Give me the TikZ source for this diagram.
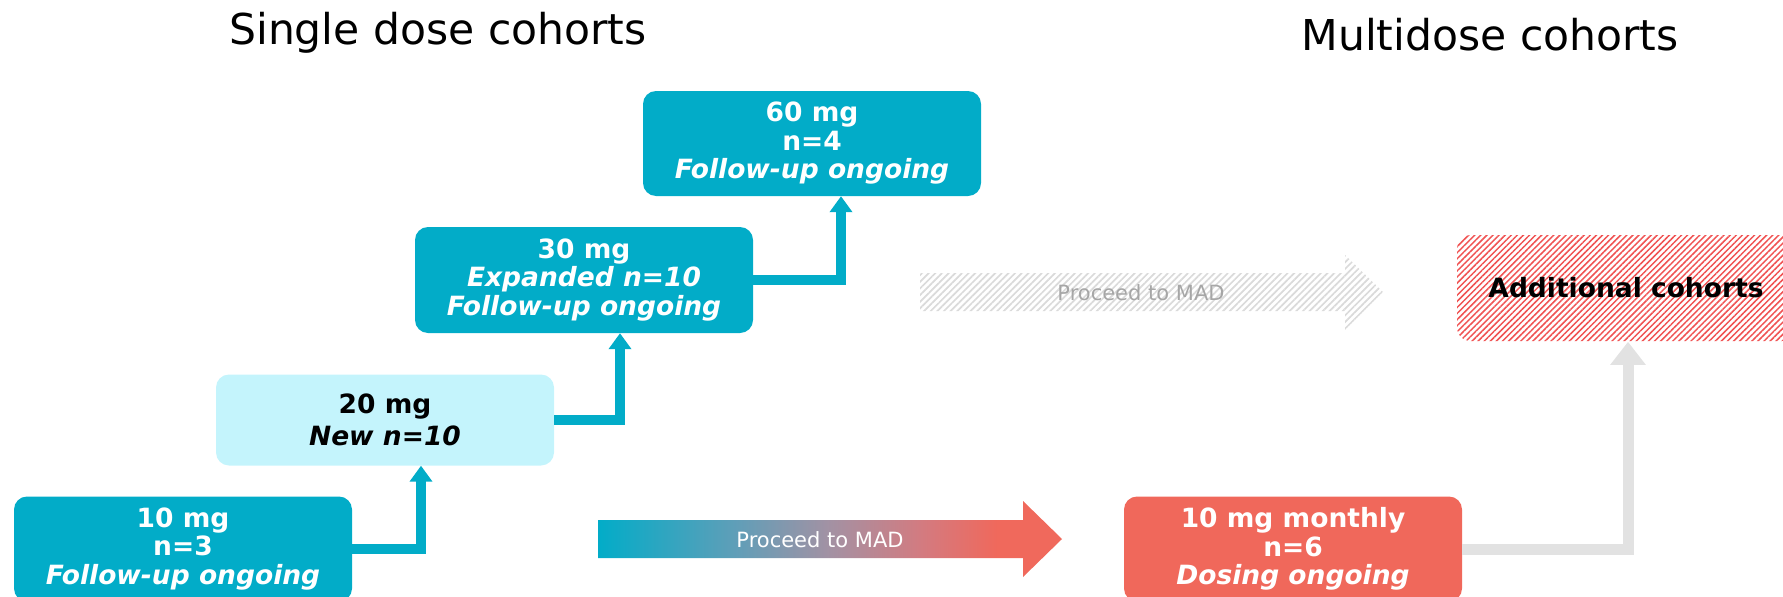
\documentclass[tikz,border=0pt]{standalone}
\usepackage{fontspec}
\setmainfont{DejaVu Sans}
\usetikzlibrary{arrows.meta,patterns.meta}
\definecolor{teal}{RGB}{2,172,200}
\definecolor{lightc}{RGB}{196,244,252}
\definecolor{redc}{RGB}{240,104,91}
\definecolor{grayline}{RGB}{226,226,226}
\definecolor{hatchgray}{RGB}{218,218,218}
\definecolor{hatchred}{RGB}{240,82,82}
\definecolor{graytext}{RGB}{166,166,166}
\pgfdeclarehorizontalshading{madshade}{100bp}{%
  rgb(0bp)=(0.008,0.675,0.784);
  rgb(25bp)=(0.008,0.675,0.784);
  rgb(40bp)=(0.38,0.62,0.72);
  rgb(50bp)=(0.64,0.57,0.64);
  rgb(60bp)=(0.83,0.48,0.50);
  rgb(68bp)=(0.94,0.41,0.36);
  rgb(100bp)=(0.94,0.41,0.36)}
\tikzset{
  box/.style={rounded corners=13pt, minimum width=338pt, minimum height=105pt, inner sep=0pt,
    align=center, font=\fontsize{26.5}{28.5}\selectfont\bfseries},
  tealbox/.style={box, fill=teal, text=white},
  conn/.style={draw=teal, line width=10pt, -{Triangle[width=22pt,length=16pt]}},
  grayconn/.style={draw=grayline, line width=11pt, -{Triangle[width=34pt,length=23pt]}},
  title/.style={font=\fontsize{42.5}{50}\selectfont, inner sep=0pt},
  arrowlabel/.style={font=\fontsize{21}{25}\selectfont, inner sep=0pt}
}
\begin{document}
\begin{tikzpicture}[x=1pt,y=-1pt]
\useasboundingbox (0,0) rectangle (1783,597);
\clip (0,0) rectangle (1783,597);
% titles
\node[title] (t1) at (438,33) {Single dose cohorts};
\node[title] (t2) at (1490,35) {Multidose cohorts};
% boxes
\node[tealbox] (b60) at (812,143.5) {60 mg\\n=4\\\textit{Follow-up ongoing}};
\node[tealbox, minimum height=106pt] (b30) at (584,280) {30 mg\\\textit{Expanded n=10}\\\textit{Follow-up ongoing}};
\node[box, fill=lightc, text=black, minimum height=91pt, font=\fontsize{26.5}{32}\selectfont\bfseries] (b20) at (385,420) {20 mg\\\textit{New n=10}};
\node[tealbox] (b10) at (183,549) {10 mg\\n=3\\\textit{Follow-up ongoing}};
\node[box, fill=redc, text=white] (bm) at (1293,549) {10 mg monthly\\n=6\\\textit{Dosing ongoing}};
\node[box, pattern={Lines[angle=45,distance=4.3pt,line width=1.5pt]}, pattern color=hatchred, minimum height=106pt] (badd) at (1626,288) {};
\node[box, text=black] (baddt) at (badd.center) {Additional cohorts};
% connectors
\draw[conn] (b10.east) -| ([xshift=36pt]b20.south);
\draw[conn] (b20.east) -| ([xshift=36pt]b30.south);
\draw[conn] (b30.east) -| ([xshift=29pt]b60.south);
\draw[grayconn] (bm.east) -| ([xshift=2pt]badd.south);
% gradient arrow
\shade[shading=madshade]
  (598,520) -- (1023,520) -- (1023,501) -- (1062,539) -- (1023,577) -- (1023,558) -- (598,558) -- cycle;
\node[arrowlabel, text=white] (l1) at (820,540) {Proceed to MAD};
% hatched gray arrow
\fill[pattern={Lines[angle=45,distance=4.7pt,line width=1.7pt]}, pattern color=hatchgray]
  (920,273) -- (1345,273) -- (1345,255) -- (1383,292) -- (1345,330) -- (1345,311) -- (920,311) -- cycle;
\node[arrowlabel, text=graytext] (l2) at (1141,293) {Proceed to MAD};
\end{tikzpicture}
\end{document}
